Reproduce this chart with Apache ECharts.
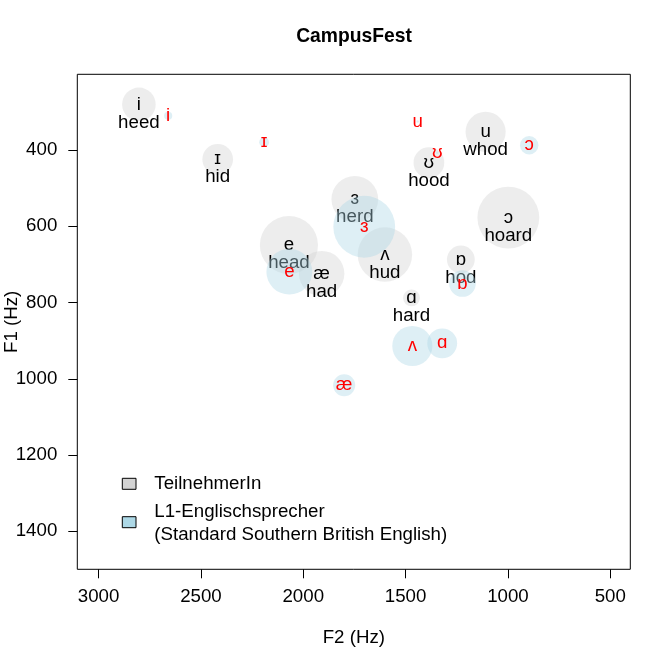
<!DOCTYPE html>
<html>
<head>
<meta charset="utf-8">
<script src="https://cdn.jsdelivr.net/npm/echarts@6/dist/echarts.min.js"></script>
<style>
html,body{margin:0;padding:0;background:#fff;}
#chart{width:668px;height:665px;}
</style>
</head>
<body>
<div id="chart"></div>
<script>
// ---- data ----
const vowelsTN = ['i','ɪ','e','æ','ɜ','ʌ','ʊ','u','ɔ','ɒ','ɑ'];
const wordsTN  = ['heed','hid','head','had','herd','hud','hood','whod','hoard','hod','hard'];
const f2TN     = [2803, 2418, 2070, 1910, 1748, 1601, 1386, 1109, 998, 1230, 1471];
const f1TN     = [280, 424, 649, 724, 529, 674, 433, 352, 577, 687, 788];
const spreadTN = [82, 75, 142, 111, 114, 133, 75, 98, 151, 68, 41];

const vowelsL1 = ['i','ɪ','e','æ','ɜ','ʌ','ʊ','u','ɔ','ɒ','ɑ'];
const f2L1     = [2660, 2191, 2068, 1800, 1702, 1467, 1345, 1441, 896, 1222, 1321];
const f1L1     = [310, 379, 719, 1017, 601, 914, 407, 325, 387, 750, 907];
const spreadL1 = [20, 24, 112, 54, 151, 98, 6, 6, 45, 65, 73];

const xTicks = [3000, 2500, 2000, 1500, 1000, 500];
const yTicks = [400, 600, 800, 1000, 1200, 1400];

const titleText = 'CampusFest';
const xName = 'F2 (Hz)';
const yName = 'F1 (Hz)';
const legendTN = 'TeilnehmerIn';
const legendL1 = 'L1-Englischsprecher\n(Standard Southern British English)';

// ---- layout / style ----
const FONT = '"Liberation Sans", Arial, "DejaVu Sans", sans-serif';
const FS = 18.7;
const GRID = {left: 77.3, right: 37.7, top: 74.3, bottom: 95.7};
const XMIN = 402, XMAX = 3104, YMIN = 201, YMAX = 1500;

const chart = echarts.init(document.getElementById('chart'), null, {renderer: 'canvas'});

function build(pxPerHz) {
  const tnData = vowelsTN.map((v, i) => ({name: v, value: [f2TN[i], f1TN[i], spreadTN[i]]}));
  const wordData = wordsTN.map((w, i) => ({name: w, value: [f2TN[i], f1TN[i]]}));
  const l1Data = vowelsL1.map((v, i) => ({name: v, value: [f2L1[i], f1L1[i], spreadL1[i]]}));
  const size = v => Math.max(0, 2 * v[2] * pxPerHz);
  const lbl = (color, offset) => ({
    show: true, position: 'inside', formatter: '{b}', color: color,
    fontFamily: FONT, fontSize: FS, offset: offset || [0, 0]
  });
  const plain = v => String(v);
  return {
    animation: false,
    backgroundColor: '#fff',
    title: {
      text: titleText, left: 354, top: 27, textAlign: 'center', padding: 0,
      textStyle: {fontFamily: FONT, fontSize: 19.3, fontWeight: 'bold', color: '#000'}
    },
    grid: {left: GRID.left, right: GRID.right, top: GRID.top, bottom: GRID.bottom,
      containLabel: false, outerBoundsMode: 'none',
      show: true, borderColor: '#000', borderWidth: 1, backgroundColor: 'transparent'},
    xAxis: {
      type: 'value', inverse: true, min: XMIN, max: XMAX,
      name: xName, nameLocation: 'middle', nameGap: 59, nameMoveOverlap: false,
      nameTextStyle: {fontFamily: FONT, fontSize: FS, color: '#000'},
      axisLine: {show: false},
      axisTick: {show: true, length: 9, customValues: xTicks, lineStyle: {color: '#000', width: 1}},
      axisLabel: {show: true, customValues: xTicks, formatter: plain, margin: 18, fontFamily: FONT, fontSize: FS, color: '#000'},
      splitLine: {show: false}
    },
    yAxis: {
      type: 'value', inverse: true, min: YMIN, max: YMAX,
      name: yName, nameLocation: 'middle', nameGap: 56, nameRotate: 90, nameMoveOverlap: false,
      nameTextStyle: {fontFamily: FONT, fontSize: FS, color: '#000'},
      axisLine: {show: false},
      axisTick: {show: true, length: 9, customValues: yTicks, lineStyle: {color: '#000', width: 1}},
      axisLabel: {show: true, customValues: yTicks, formatter: plain, margin: 20, fontFamily: FONT, fontSize: FS, color: '#000'},
      splitLine: {show: false}
    },
    series: [
      {
        name: 'TeilnehmerIn', type: 'scatter', z: 2, silent: true,
        symbol: 'circle', symbolSize: size,
        itemStyle: {color: 'rgba(211,211,211,0.4)', opacity: 1},
        label: lbl('#000', [0, 0]),
        emphasis: {disabled: true},
        data: tnData
      },
      {
        name: 'words', type: 'scatter', z: 3, silent: true,
        symbol: 'circle', symbolSize: 1,
        itemStyle: {color: 'rgba(0,0,0,0)', opacity: 1},
        label: lbl('#000', [0, 18]),
        emphasis: {disabled: true},
        data: wordData
      },
      {
        name: 'L1', type: 'scatter', z: 4, silent: true,
        symbol: 'circle', symbolSize: size,
        itemStyle: {color: 'rgba(173,216,230,0.4)', opacity: 1},
        label: lbl('#ff0000', [0, 0]),
        emphasis: {disabled: true},
        data: l1Data
      }
    ],
    graphic: [
      {type: 'rect', z: 10, shape: {x: 122.3, y: 478.3, width: 13.7, height: 11},
        style: {fill: '#d3d3d3', stroke: '#000', lineWidth: 1}},
      {type: 'text', z: 10, x: 154.3, y: 484,
        style: {text: legendTN, fill: '#000', font: FS + 'px ' + FONT, verticalAlign: 'middle'}},
      {type: 'rect', z: 10, shape: {x: 122.3, y: 516.7, width: 13.7, height: 11},
        style: {fill: '#add8e6', stroke: '#000', lineWidth: 1}},
      {type: 'text', z: 10, x: 154.3, y: 523.6,
        style: {text: legendL1, fill: '#000', font: FS + 'px ' + FONT, lineHeight: 22.7, verticalAlign: 'middle'}}
    ]
  };
}

// first pass to get the axis scale, then size bubbles through it
chart.setOption(build(0.2));
const p1 = chart.convertToPixel({xAxisIndex: 0}, 1000);
const p2 = chart.convertToPixel({xAxisIndex: 0}, 2000);
const pxPerHz = Math.abs(p1 - p2) / 1000;
chart.setOption(build(pxPerHz), true);
</script>
</body>
</html>
